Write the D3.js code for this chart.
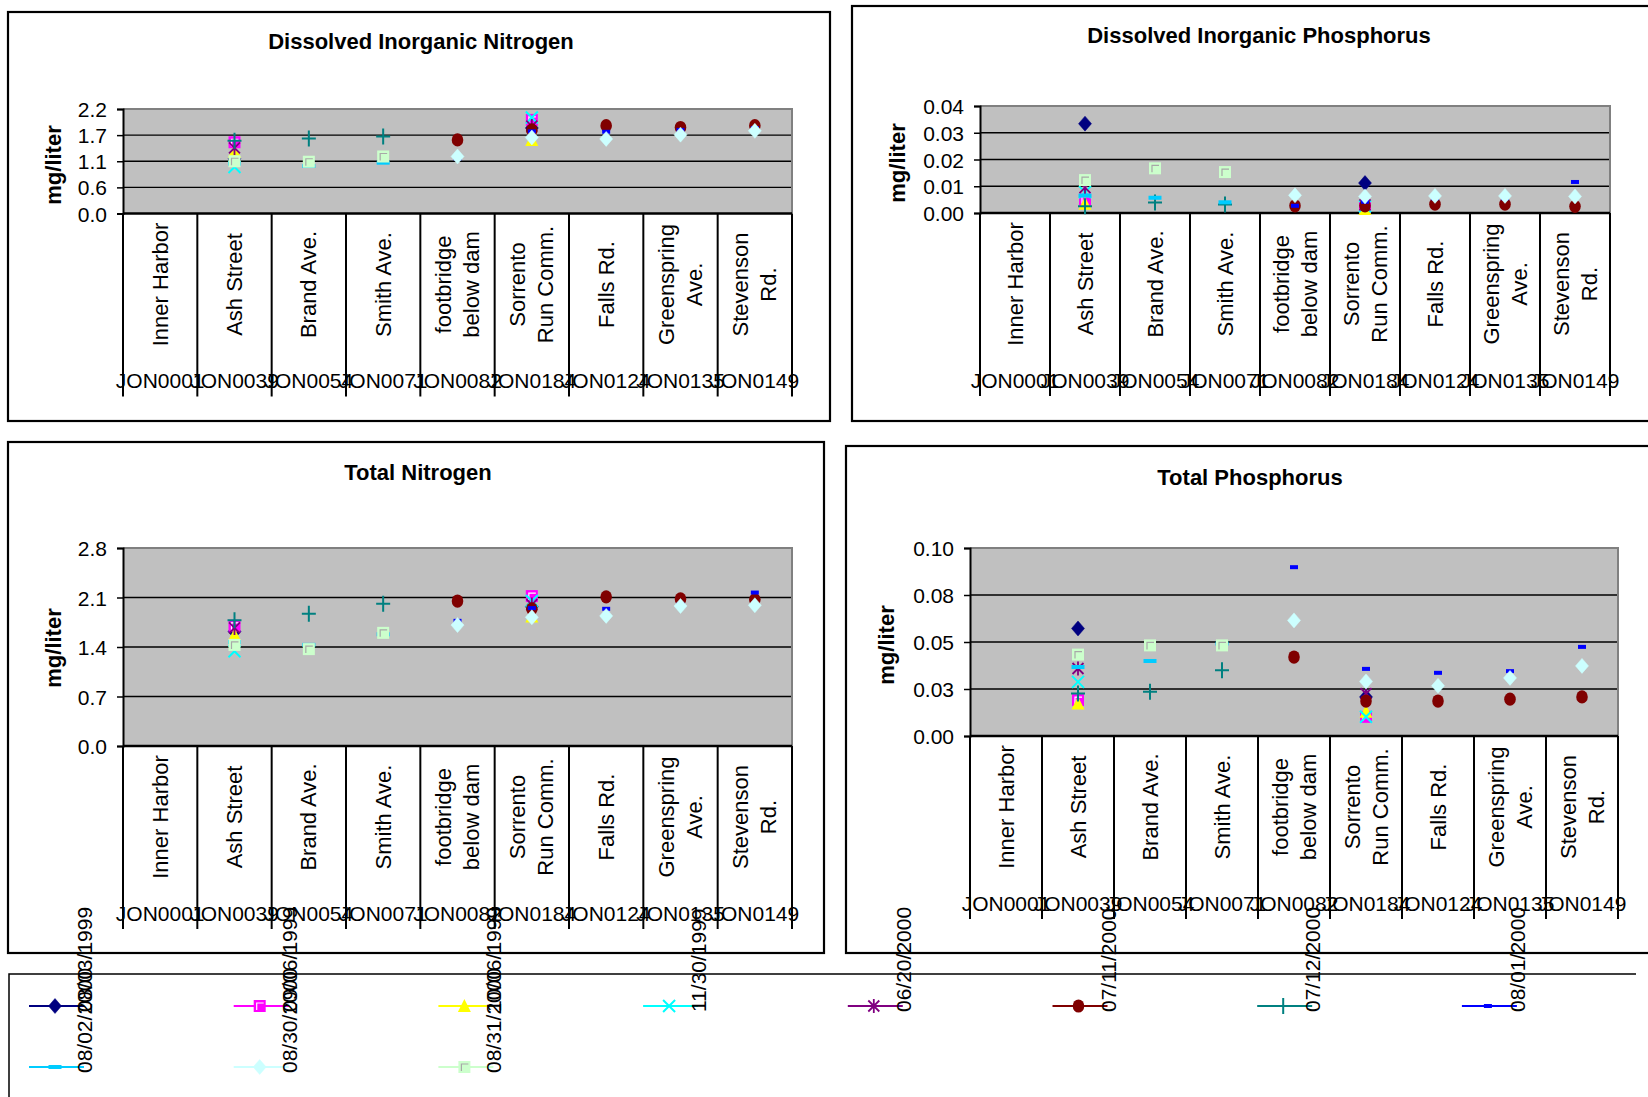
<!DOCTYPE html>
<html><head><meta charset="utf-8">
<script src="https://cdn.jsdelivr.net/npm/d3@7"></script>
<style>
html,body{margin:0;padding:0;background:#fff;}
svg{display:block;font-family:"Liberation Sans",Arial,sans-serif;}
</style></head><body>
<svg id="chart" width="1648" height="1097"></svg>
<script>
// ---------------- DATA ----------------
const stationLines = [["Inner Harbor"],["Ash Street"],["Brand Ave."],["Smith Ave."],["footbridge","below dam"],["Sorrento","Run Comm."],["Falls Rd."],["Greenspring","Ave."],["Stevenson","Rd."]];
const stationCodes = ["JON0001","JON0039","JON0054","JON0071","JON0082","JON0184","JON0124","JON0135","JON0149"];
const sampleDates = ["08/03/1999","09/06/1999","10/06/1999","11/30/1999","06/20/2000","07/11/2000","07/12/2000","08/01/2000","08/02/2000","08/30/2000","08/31/2000"];
const _ = null;
// rows = sample dates, columns = stations
const dinValues = [
  [_,1.15,_,_,_,1.80,_,_,_],
  [_,1.50,_,_,_,1.97,_,_,_],
  [_,1.30,_,_,_,1.55,_,_,_],
  [_,0.98,_,_,_,2.02,_,_,_],
  [_,1.38,_,_,_,1.84,_,_,_],
  [_,_,_,_,1.55,1.76,1.85,1.81,1.85],
  [_,1.53,1.58,1.62,_,_,_,_,_],
  [_,_,_,_,1.16,1.73,1.72,1.76,1.80],
  [_,1.05,1.00,1.07,_,_,_,_,_],
  [_,_,_,_,1.20,1.60,1.57,1.66,1.74],
  [_,1.10,1.09,1.20,_,_,_,_,_]
];
const dipValues = [
  [_,0.0334,_,_,_,0.0112,_,_,_],
  [_,0.0050,_,_,_,0.0020,_,_,_],
  [_,0.0035,_,_,_,0.0015,_,_,_],
  [_,0.0078,_,_,_,0.0025,_,_,_],
  [_,0.0095,_,_,_,0.0030,_,_,_],
  [_,_,_,_,0.0027,0.0027,0.0033,0.0033,0.0025],
  [_,0.0025,0.0039,0.0032,_,_,_,_,_],
  [_,_,_,_,0.0027,0.0042,0.0055,0.0055,0.0116],
  [_,0.0065,0.0057,0.0040,_,_,_,_,_],
  [_,_,_,_,0.0066,0.0062,0.0064,0.0064,0.0062],
  [_,0.0123,0.0167,0.0153,_,_,_,_,_]
];
const tnValues = [
  [_,1.62,_,_,_,1.97,_,_,_],
  [_,1.70,_,_,_,2.12,_,_,_],
  [_,1.57,_,_,_,1.83,_,_,_],
  [_,1.34,_,_,_,2.05,_,_,_],
  [_,1.67,_,_,_,2.00,_,_,_],
  [_,_,_,_,2.05,1.94,2.11,2.08,2.07],
  [_,1.78,1.87,2.01,_,_,_,_,_],
  [_,_,_,_,1.77,1.95,1.94,2.00,2.17],
  [_,1.47,1.43,1.58,_,_,_,_,_],
  [_,_,_,_,1.71,1.82,1.84,1.98,1.99],
  [_,1.43,1.37,1.60,_,_,_,_,_]
];
const tpValues = [
  [_,0.0572,_,_,_,0.0208,_,_,_],
  [_,0.0191,_,_,_,0.0102,_,_,_],
  [_,0.0173,_,_,_,0.0129,_,_,_],
  [_,0.0288,_,_,_,0.0102,_,_,_],
  [_,0.0359,_,_,_,0.0226,_,_,_],
  [_,_,_,_,0.0420,0.0186,0.0186,0.0196,0.0208],
  [_,0.0226,0.0235,0.0350,_,_,_,_,_],
  [_,_,_,_,0.0898,0.0357,0.0336,0.0345,0.0474],
  [_,0.0367,0.0399,0.0492,_,_,_,_,_],
  [_,_,_,_,0.0615,0.0290,0.0267,0.0309,0.0373],
  [_,0.0433,0.0482,0.0482,_,_,_,_,_]
];
const dinTicks = [0,0.55,1.1,1.65,2.2];
const dinTickLabels = ["0.0","0.6","1.1","1.7","2.2"];
const dipTicks = [0,0.01,0.02,0.03,0.04];
const dipTickLabels = ["0.00","0.01","0.02","0.03","0.04"];
const tnTicks = [0,0.7,1.4,2.1,2.8];
const tnTickLabels = ["0.0","0.7","1.4","2.1","2.8"];
const tpTicks = [0,0.025,0.05,0.075,0.1];
const tpTickLabels = ["0.00","0.03","0.05","0.08","0.10"];

// ---------------- STYLES ----------------
const seriesStyle = [
  {shape:"diamond", color:"#000080"},
  {shape:"square", color:"#FF00FF", inner:"#FFFFFF"},
  {shape:"triangle", color:"#FFFF00"},
  {shape:"x", color:"#00FFFF"},
  {shape:"star", color:"#800080"},
  {shape:"circle", color:"#800000"},
  {shape:"plus", color:"#008080"},
  {shape:"dash", color:"#0000FF", w:8},
  {shape:"dash", color:"#00CCFF", w:13},
  {shape:"diamond", color:"#CCFFFF"},
  {shape:"square", color:"#CCFFCC", inner:"#A8A8A8"}
];

const svg = d3.select("#chart");
svg.append("rect").attr("width",1648).attr("height",1097).attr("fill","#fff");

function drawMarker(g, st) {
  const c = st.color;
  switch (st.shape) {
    case "diamond":
      g.append("path").attr("d","M0,-7.5L6.5,0L0,7.5L-6.5,0Z").attr("fill",c).attr("stroke",c).attr("stroke-width",0.5); break;
    case "square":
      g.append("rect").attr("x",-6).attr("y",-6).attr("width",12).attr("height",12).attr("fill",c);
      g.append("path").attr("d","M-3,4V-3H4").attr("fill","none").attr("stroke",st.inner).attr("stroke-width",1.2); break;
    case "triangle":
      g.append("path").attr("d","M0,-7L6.5,6L-6.5,6Z").attr("fill",c); break;
    case "x":
      g.append("path").attr("d","M-6,-6L6,6M-6,6L6,-6").attr("stroke",c).attr("stroke-width",2).attr("fill","none"); break;
    case "star":
      g.append("path").attr("d","M-5.5,-5.5L5.5,5.5M-5.5,5.5L5.5,-5.5M0,-7V7").attr("stroke",c).attr("stroke-width",1.8).attr("fill","none"); break;
    case "circle":
      g.append("ellipse").attr("rx",5.8).attr("ry",6.6).attr("fill",c); break;
    case "plus":
      g.append("path").attr("d","M-7,0H7M0,-8V8").attr("stroke",c).attr("stroke-width",2).attr("fill","none"); break;
    case "dash":
      g.append("rect").attr("x",-st.w/2).attr("y",-2).attr("width",st.w).attr("height",4).attr("fill",c); break;
  }
}

// ---------------- PANELS ----------------
const panels = [
  {title:"Dissolved Inorganic Nitrogen", values:dinValues, ticks:dinTicks, labels:dinTickLabels,
   frame:[8,12,822,409], plot:[123,109,792,213.5], tx:421, ty:41, yx:53, yy:165},
  {title:"Dissolved Inorganic Phosphorus", values:dipValues, ticks:dipTicks, labels:dipTickLabels,
   frame:[852,6,820,415], plot:[980,106,1610,213], tx:1259, ty:35, yx:897, yy:163},
  {title:"Total Nitrogen", values:tnValues, ticks:tnTicks, labels:tnTickLabels,
   frame:[8,442,816,511], plot:[123,548,792,746], tx:418, ty:472, yx:53, yy:648},
  {title:"Total Phosphorus", values:tpValues, ticks:tpTicks, labels:tpTickLabels,
   frame:[846,446,830,507], plot:[970,548,1618,736], tx:1250, ty:477, yx:886, yy:645}
];

panels.forEach(p => {
  const [l,t,r,b] = p.plot;
  const g = svg.append("g");
  g.append("rect").attr("x",p.frame[0]).attr("y",p.frame[1]).attr("width",p.frame[2]).attr("height",p.frame[3])
    .attr("fill","#fff").attr("stroke","#000").attr("stroke-width",2.2);
  g.append("text").attr("x",p.tx).attr("y",p.ty).attr("text-anchor","middle").attr("dominant-baseline","central")
    .attr("font-size",22).attr("font-weight","bold").text(p.title);

  const x = d3.scaleBand().domain(d3.range(stationLines.length)).range([l,r]).padding(0);
  const y = d3.scaleLinear().domain([p.ticks[0], p.ticks[p.ticks.length-1]]).range([b,t]);

  g.append("rect").attr("x",l).attr("y",t).attr("width",r-l).attr("height",b-t).attr("fill","#C0C0C0");
  // gridlines
  g.selectAll(".grid").data(p.ticks.slice(1,-1)).enter().append("line")
    .attr("x1",l).attr("x2",r).attr("y1",d=>y(d)).attr("y2",d=>y(d)).attr("stroke","#000").attr("stroke-width",1.4);
  // gray top & right border
  g.append("path").attr("d",`M${l},${t}H${r}V${b}`).attr("fill","none").attr("stroke","#808080").attr("stroke-width",2);

  // y axis
  const ya = g.append("g").attr("transform",`translate(${l},0)`)
    .call(d3.axisLeft(y).tickValues(p.ticks).tickFormat((d,i)=>p.labels[i]).tickSize(6).tickPadding(10));
  ya.select(".domain").attr("stroke","#000").attr("stroke-width",2);
  ya.selectAll(".tick line").attr("stroke","#000").attr("stroke-width",1.5);
  ya.selectAll(".tick text").attr("font-size",21).attr("font-family","Liberation Sans, Arial, sans-serif").attr("fill","#000").attr("dy",null).attr("dominant-baseline","central");

  // category axis
  g.append("line").attr("x1",l).attr("x2",r).attr("y1",b).attr("y2",b).attr("stroke","#000").attr("stroke-width",2.6);
  const edges = d3.range(stationLines.length+1).map(i => i < stationLines.length ? x(i) : r);
  g.selectAll(".sep").data(edges).enter().append("line")
    .attr("x1",d=>d).attr("x2",d=>d).attr("y1",b).attr("y2",b+183).attr("stroke","#000").attr("stroke-width",2);
  stationLines.forEach((lines,i) => {
    const cx = x(i) + x.bandwidth()/2;
    const tg = g.append("text").attr("transform",`translate(${cx},${b+71}) rotate(-90)`)
      .attr("text-anchor","middle").attr("font-size",22).attr("fill","#000");
    lines.forEach((ln,k) => {
      tg.append("tspan").attr("x",0).attr("y",(k-(lines.length-1)/2)*28).attr("dominant-baseline","central").text(ln);
    });
  });
  g.selectAll(".code").data(stationCodes).enter().append("text")
    .attr("x",(d,i)=>x(i)+x.bandwidth()/2).attr("y",b+167).attr("text-anchor","middle").attr("dominant-baseline","central")
    .attr("font-size",21).text(d=>d);

  // y title
  g.append("text").attr("transform",`translate(${p.yx},${p.yy}) rotate(-90)`).attr("text-anchor","middle")
    .attr("dominant-baseline","central").attr("font-size",22).attr("font-weight","bold").text("mg/liter");

  // points
  p.values.forEach((row,si) => {
    row.forEach((v,ci) => {
      if (v === null) return;
      const mg = g.append("g").attr("transform",`translate(${x(ci)+x.bandwidth()/2},${y(v)})`);
      drawMarker(mg, seriesStyle[si]);
    });
  });
});

// ---------------- LEGEND ----------------
const lg = svg.append("g");
lg.append("path").attr("d","M9,1097V974H1636").attr("fill","none").attr("stroke","#000").attr("stroke-width",1.5);
sampleDates.forEach((d,i) => {
  const row = i < 8 ? 0 : 1, col = i < 8 ? i : i - 8;
  const x0 = 29 + col*204.7, yy = row === 0 ? 1006 : 1067;
  lg.append("line").attr("x1",x0).attr("x2",x0+55).attr("y1",yy).attr("y2",yy).attr("stroke",seriesStyle[i].color).attr("stroke-width",2);
  const mg = lg.append("g").attr("transform",`translate(${x0+26},${yy})`);
  drawMarker(mg, seriesStyle[i]);
  lg.append("text").attr("transform",`translate(${x0+63},${yy+6}) rotate(-90)`).attr("font-size",21).attr("fill","#000").text(d);
});
</script>
</body></html>
